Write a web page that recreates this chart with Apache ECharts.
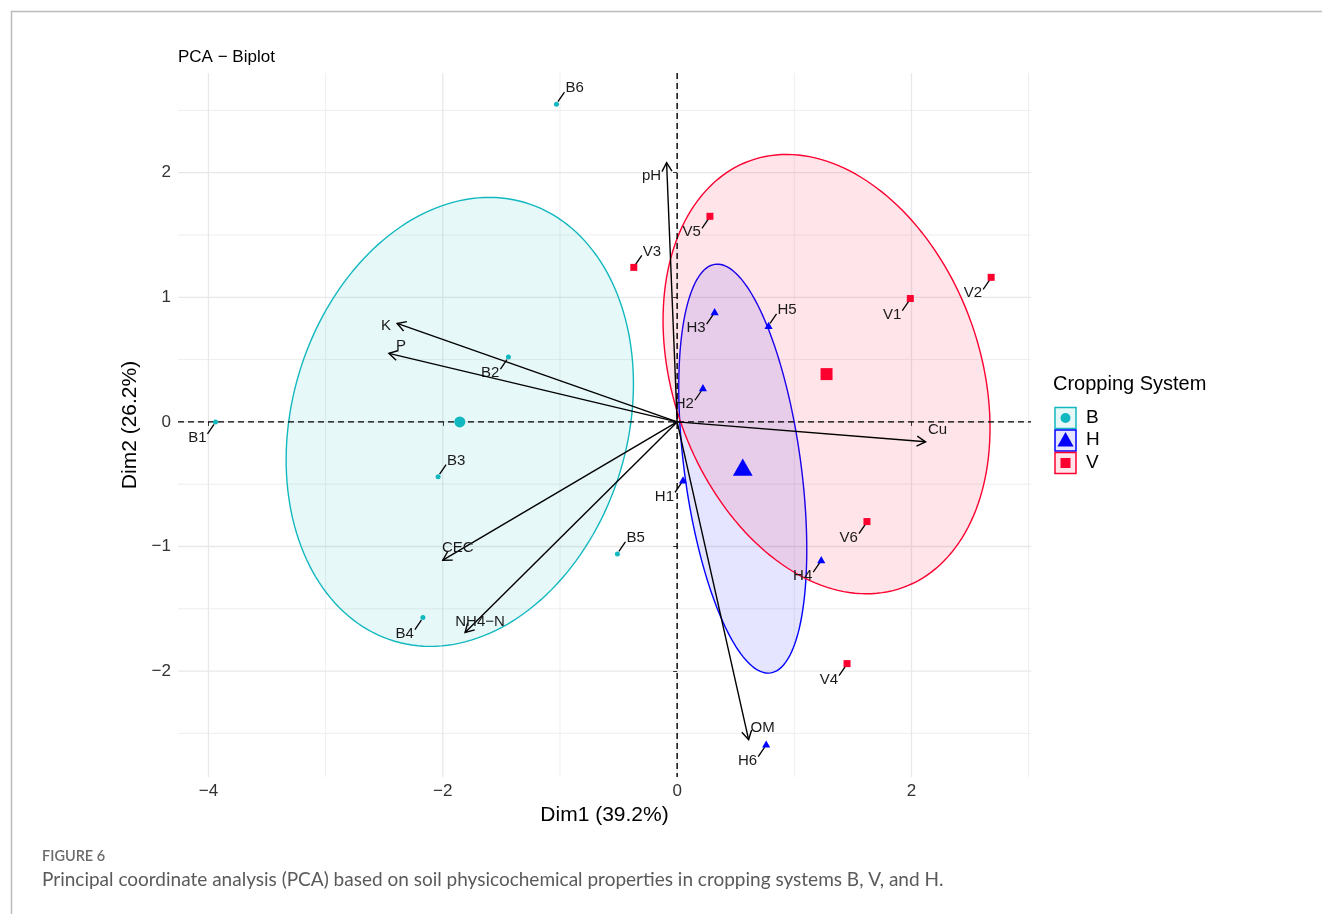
<!DOCTYPE html>
<html>
<head>
<meta charset="utf-8">
<script src="https://cdn.jsdelivr.net/npm/echarts@6/dist/echarts.min.js"></script>
<style>
  html, body { margin: 0; padding: 0; background: #fff; }
  #chart { width: 1322px; height: 914px; }
</style>
</head>
<body>
<div id="chart"></div>
<script>
// ---- Individuals (PCA scores) per cropping system ----
const B_NAMES = ['B1', 'B2', 'B3', 'B4', 'B5', 'B6'];
const B_X = [-3.94, -1.44, -2.04, -2.17, -0.51, -1.03];
const B_Y = [0.00, 0.52, -0.44, -1.57, -1.06, 2.55];

const H_NAMES = ['H1', 'H2', 'H3', 'H4', 'H5', 'H6'];
const H_X = [0.05, 0.22, 0.32, 1.23, 0.78, 0.76];
const H_Y = [-0.47, 0.27, 0.88, -1.11, 0.77, -2.59];

const V_NAMES = ['V1', 'V2', 'V3', 'V4', 'V5', 'V6'];
const V_X = [1.99, 2.68, -0.37, 1.45, 0.28, 1.62];
const V_Y = [0.99, 1.16, 1.24, -1.94, 1.65, -0.80];

// ---- Variables (loadings) ----
const VAR_NAMES = ['pH', 'K', 'P', 'Cu', 'CEC', 'NH4\u2212N', 'OM'];
const VAR_X = [-0.09, -2.39, -2.46, 2.12, -2.00, -1.81, 0.61];
const VAR_Y = [2.08, 0.79, 0.55, -0.16, -1.11, -1.69, -2.55];

// ---- Axis ticks and grid ----
const X_TICKS = [-4, -2, 0, 2];
const Y_TICKS = [-2, -1, 0, 1, 2];
const X_MINOR = [-3, -1, 1, 3];
const Y_MINOR = [-2.5, -1.5, -0.5, 0.5, 1.5, 2.5];

// ---- Layout / style (not data) ----
const GROUP_KEYS = ['B', 'H', 'V'];
const COLORS = { B: '#12B8BF', H: '#0000FF', V: '#FC0030' };
const LABEL_SIDE = {
  B: ['dl', 'dl', 'ur', 'dl', 'ur', 'ur'],
  H: ['dl', 'dl', 'dl', 'dl', 'ur', 'dl'],
  V: ['dl', 'dl', 'ur', 'dl', 'dl', 'dl']
};
// pixel offsets of the variable labels from the arrow tips
const VAR_LABEL_OFFSET = [[-15, 13], [-11, 2], [12, -7], [12, -12], [15, -12], [15, -11], [14, -12]];
const ELLIPSE_SCALE = 1.24;
const FONT = '"Liberation Sans", Arial, sans-serif';
const CAPTION_FONT = 'Lato, "Open Sans", sans-serif';

const GROUP_DATA = {
  B: { names: B_NAMES, xs: B_X, ys: B_Y },
  H: { names: H_NAMES, xs: H_X, ys: H_Y },
  V: { names: V_NAMES, xs: V_X, ys: V_Y }
};

const mean = a => a.reduce((s, v) => s + v, 0) / a.length;

// Ellipse outline from the group's covariance (Cholesky factor), in data units
function ellipsePoints(xs, ys, k, n) {
  const mx = mean(xs), my = mean(ys), m = xs.length;
  let sxx = 0, syy = 0, sxy = 0;
  for (let i = 0; i < m; i++) {
    const dx = xs[i] - mx, dy = ys[i] - my;
    sxx += dx * dx; syy += dy * dy; sxy += dx * dy;
  }
  sxx /= (m - 1); syy /= (m - 1); sxy /= (m - 1);
  const a = Math.sqrt(sxx), b = sxy / a, c = Math.sqrt(Math.max(syy - b * b, 0));
  const pts = [];
  for (let i = 0; i < n; i++) {
    const t = 2 * Math.PI * i / n;
    pts.push([mx + k * a * Math.cos(t), my + k * (b * Math.cos(t) + c * Math.sin(t))]);
  }
  return pts;
}

function hexToRgba(hex, a) {
  const r = parseInt(hex.slice(1, 3), 16), g = parseInt(hex.slice(3, 5), 16), b = parseInt(hex.slice(5, 7), 16);
  return `rgba(${r},${g},${b},${a})`;
}

function marker(group, x, y, s, col) {
  if (group === 'B') return { type: 'circle', shape: { cx: x, cy: y, r: s / 2 }, style: { fill: col } };
  if (group === 'H') return {
    type: 'polygon',
    shape: { points: [[x, y - s * 0.6], [x + s * 0.58, y + s * 0.42], [x - s * 0.58, y + s * 0.42]] },
    style: { fill: col }
  };
  return { type: 'rect', shape: { x: x - s / 2, y: y - s / 2, width: s, height: s }, style: { fill: col } };
}

const fmt = v => (v < 0 ? '\u2212' + Math.abs(v) : String(v));

const series = [];

// grid lines
function gridSeries(values, vertical, width, color) {
  return {
    type: 'custom', silent: true, z: 0,
    data: values.map(v => (vertical ? [v, 0] : [0, v])),
    renderItem: (params, api) => {
      const cs = params.coordSys;
      const p = api.coord([api.value(0), api.value(1)]);
      const shape = vertical
        ? { x1: p[0], y1: cs.y, x2: p[0], y2: cs.y + cs.height }
        : { x1: cs.x, y1: p[1], x2: cs.x + cs.width, y2: p[1] };
      return { type: 'line', shape, style: { stroke: color, lineWidth: width } };
    }
  };
}
series.push(gridSeries(X_MINOR, true, 1, '#EEEEEE'));
series.push(gridSeries(Y_MINOR, false, 1, '#EEEEEE'));
series.push(gridSeries(X_TICKS, true, 1.3, '#E8E8E8'));
series.push(gridSeries(Y_TICKS, false, 1.3, '#E8E8E8'));

// confidence ellipses
GROUP_KEYS.forEach(g => {
  const d = GROUP_DATA[g];
  const pts = ellipsePoints(d.xs, d.ys, ELLIPSE_SCALE, 180);
  series.push({
    type: 'custom', silent: true, z: 1,
    data: [[mean(d.xs), mean(d.ys)]],
    renderItem: (params, api) => ({
      type: 'polygon',
      shape: { points: pts.map(p => api.coord(p)) },
      style: { fill: hexToRgba(COLORS[g], 0.1), stroke: COLORS[g], lineWidth: 1.4 }
    })
  });
});

// dashed reference lines through the origin
series.push({
  type: 'custom', silent: true, z: 2,
  data: [[0, 0]],
  renderItem: (params, api) => {
    const cs = params.coordSys;
    const o = api.coord([0, 0]);
    const st = { stroke: '#000', lineWidth: 1.4, lineDash: [6, 4] };
    return {
      type: 'group', children: [
        { type: 'line', shape: { x1: cs.x, y1: o[1], x2: cs.x + cs.width, y2: o[1] }, style: st },
        { type: 'line', shape: { x1: o[0], y1: cs.y, x2: o[0], y2: cs.y + cs.height }, style: st }
      ]
    };
  }
});

// individuals with repelled labels
GROUP_KEYS.forEach(g => {
  const d = GROUP_DATA[g];
  const sides = LABEL_SIDE[g];
  series.push({
    type: 'custom', z: 4, name: g,
    data: d.xs.map((x, i) => [x, d.ys[i]]),
    renderItem: (params, api) => {
      const i = params.dataIndex;
      const p = api.coord([api.value(0), api.value(1)]);
      const ur = sides[i] === 'ur';
      const sx = ur ? 1 : -1, sy = ur ? -1 : 1;
      const size = g === 'B' ? 5 : 7;
      return {
        type: 'group', children: [
          { type: 'line', shape: { x1: p[0] + sx * 1.5, y1: p[1] + sy * 2.5, x2: p[0] + sx * 8, y2: p[1] + sy * 12 },
            style: { stroke: '#000', lineWidth: 1.3 } },
          marker(g, p[0], p[1], size, COLORS[g]),
          { type: 'text', x: p[0] + sx * 9, y: p[1] + sy * 16,
            style: { text: d.names[i], fill: '#1a1a1a', font: '15px ' + FONT, align: ur ? 'left' : 'right', verticalAlign: 'middle' } }
        ]
      };
    }
  });
  // group centroid
  series.push({
    type: 'custom', z: 4,
    data: [[mean(d.xs), mean(d.ys)]],
    renderItem: (params, api) => {
      const p = api.coord([api.value(0), api.value(1)]);
      return marker(g, p[0], p[1], g === 'B' ? 11 : (g === 'H' ? 17 : 12), COLORS[g]);
    }
  });
});

// variable arrows
series.push({
  type: 'custom', z: 5,
  data: VAR_X.map((x, i) => [x, VAR_Y[i]]),
  renderItem: (params, api) => {
    const i = params.dataIndex;
    const o = api.coord([0, 0]);
    const t = api.coord([api.value(0), api.value(1)]);
    const ang = Math.atan2(t[1] - o[1], t[0] - o[0]);
    const L = 10, spread = Math.PI / 6;
    const h1 = [t[0] - L * Math.cos(ang - spread), t[1] - L * Math.sin(ang - spread)];
    const h2 = [t[0] - L * Math.cos(ang + spread), t[1] - L * Math.sin(ang + spread)];
    const st = { stroke: '#000', lineWidth: 1.4, fill: null };
    const off = VAR_LABEL_OFFSET[i];
    return {
      type: 'group', children: [
        { type: 'line', shape: { x1: o[0], y1: o[1], x2: t[0], y2: t[1] }, style: st },
        { type: 'polyline', shape: { points: [h1, t, h2] }, style: st },
        { type: 'text', x: t[0] + off[0], y: t[1] + off[1],
          style: { text: VAR_NAMES[i], fill: '#1a1a1a', font: '15px ' + FONT, align: 'center', verticalAlign: 'middle' } }
      ]
    };
  }
});

// legend (drawn as graphic elements)
const legendEls = [
  { type: 'text', left: 1053, top: 374, style: { text: 'Cropping System', font: '20px ' + FONT, fill: '#000' } }
];
GROUP_KEYS.forEach((g, i) => {
  const cy = 418 + i * 22.5;
  legendEls.push({
    type: 'rect', shape: { x: 1055, y: cy - 10.5, width: 21, height: 21 },
    style: { fill: hexToRgba(COLORS[g], 0.1), stroke: COLORS[g], lineWidth: 1.5 }
  });
  legendEls.push(marker(g, 1065.5, cy, g === 'B' ? 10 : (g === 'H' ? 14 : 10), COLORS[g]));
  legendEls.push({ type: 'text', left: 1086, top: cy - 10, style: { text: g, font: '19px ' + FONT, fill: '#000' } });
});

const chart = echarts.init(document.getElementById('chart'), null, { renderer: 'canvas' });
chart.setOption({
  backgroundColor: '#fff',
  animation: false,
  title: {
    text: 'PCA \u2212 Biplot', left: 173, top: 44,
    textStyle: { fontFamily: FONT, fontSize: 17, fontWeight: 'normal', color: '#000' }
  },
  grid: { left: 178, right: 291, top: 73, bottom: 137 },
  xAxis: {
    type: 'value', min: -4.26, max: 3.02,
    axisLine: { show: false },
    splitLine: { show: false },
    axisTick: { show: true, customValues: X_TICKS, length: 4, lineStyle: { color: '#333' } },
    axisLabel: { customValues: X_TICKS, formatter: fmt, color: '#333', fontSize: 17, fontFamily: FONT, margin: 6 },
    name: 'Dim1 (39.2%)', nameLocation: 'middle', nameGap: 25,
    nameTextStyle: { fontSize: 21, color: '#000', fontFamily: FONT }
  },
  yAxis: {
    type: 'value', min: -2.85, max: 2.80,
    axisLine: { show: false },
    splitLine: { show: false },
    axisTick: { show: true, customValues: Y_TICKS, length: 4, lineStyle: { color: '#333' } },
    axisLabel: { customValues: Y_TICKS, formatter: fmt, color: '#333', fontSize: 17, fontFamily: FONT, margin: 7 },
    name: 'Dim2 (26.2%)', nameLocation: 'middle', nameGap: 31, nameRotate: 90,
    nameTextStyle: { fontSize: 21, color: '#000', fontFamily: FONT }
  },
  graphic: [
    { type: 'line', shape: { x1: 11, y1: 11.5, x2: 1322, y2: 11.5 }, style: { stroke: '#bbb', lineWidth: 1.5 } },
    { type: 'line', shape: { x1: 11.5, y1: 11, x2: 11.5, y2: 914 }, style: { stroke: '#bbb', lineWidth: 1.5 } },
    { type: 'text', left: 42, top: 849, style: { text: 'FIGURE 6', font: '600 14.5px ' + CAPTION_FONT, fill: '#6b6b6b' } },
    { type: 'text', left: 42, top: 870, style: { text: 'Principal coordinate analysis (PCA) based on soil physicochemical properties in cropping systems B, V, and H.', font: '19px ' + CAPTION_FONT, fill: '#5a5a5a' } },
    ...legendEls
  ],
  series
});
</script>
</body>
</html>
